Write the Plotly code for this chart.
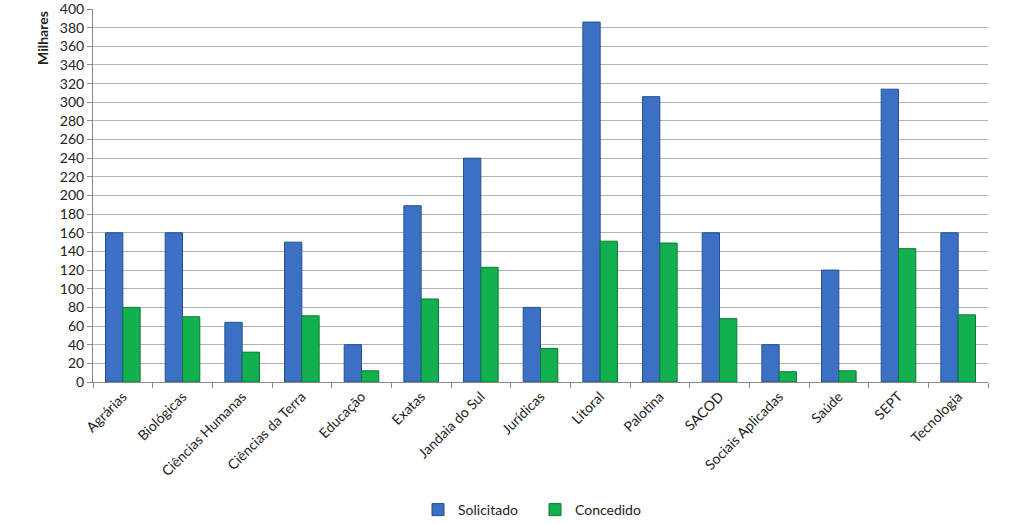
import plotly.graph_objects as go

categories = ["Agrárias", "Biológicas", "Ciências Humanas", "Ciências da Terra", "Educação",
              "Exatas", "Jandaia do Sul", "Jurídicas", "Litoral", "Palotina", "SACOD",
              "Sociais Aplicadas", "Saúde", "SEPT", "Tecnologia"]
solicitado = [160, 160, 64, 150, 40, 189, 240, 80, 386, 306, 160, 40, 120, 314, 160]
concedido = [80, 70, 32, 71, 12, 89, 123, 36, 151, 149, 68, 11, 12, 143, 72]
y_ticks = list(range(0, 401, 20))

FONT = "Lato"

fig = go.Figure()
fig.add_trace(go.Bar(x=categories, y=solicitado, name="Solicitado",
                     marker=dict(color="#3b70c4", line=dict(color="#24508f", width=1))))
fig.add_trace(go.Bar(x=categories, y=concedido, name="Concedido",
                     marker=dict(color="#12b04f", line=dict(color="#0a7a35", width=1))))

fig.update_layout(
    width=1024, height=524,
    margin=dict(l=93, r=36, t=9, b=142),
    plot_bgcolor="white", paper_bgcolor="white",
    barmode="group", bargap=0.42, bargroupgap=0,
    font=dict(family=FONT, size=14, color="#222"),
    legend=dict(orientation="h", x=(418 - 93) / 895, xanchor="left",
                yref="container", y=(524 - 510) / 524, yanchor="middle",
                font=dict(size=14), itemwidth=30, traceorder="normal",
                entrywidthmode="pixels", entrywidth=72),
    xaxis=dict(tickangle=-45, showline=True, linecolor="#8a8a8a", ticks="outside",
               tickson="boundaries", ticklen=5, tickcolor="#8a8a8a", automargin=False,
               tickfont=dict(size=14, family=FONT)),
    yaxis=dict(range=[0, 400], tickvals=y_ticks, showgrid=True, gridcolor="#b3b3b3",
               showline=True, linecolor="#8a8a8a", ticks="outside", ticklen=5,
               tickcolor="#8a8a8a", tickfont=dict(size=14, family=FONT), zeroline=False,
               automargin=False, ticklabeloverflow="allow"),
    annotations=[dict(text="<b>Milhares</b>", textangle=-90, xref="paper", yref="paper",
                      x=-0.057, y=1.0, xanchor="center", yanchor="top", showarrow=False,
                      font=dict(size=14, family=FONT, color="#222"))],
)

fig.write_html("out.html")
